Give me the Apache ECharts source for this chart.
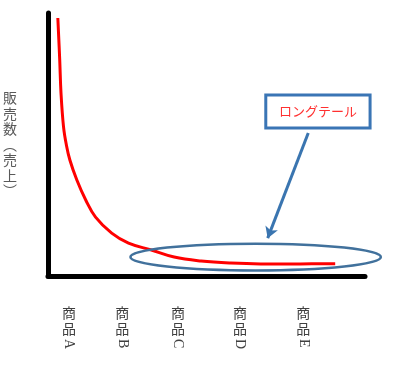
<!DOCTYPE html>
<html><head><meta charset="utf-8">
<script src="https://cdn.jsdelivr.net/npm/echarts@6/dist/echarts.min.js"></script>
<style>html,body{margin:0;padding:0;background:#fff}#c{width:400px;height:365px}</style>
</head><body><div id="c"></div>
<script>
// ---- data ----
const categories = ['商品A', '商品B', '商品C', '商品D', '商品E'];
const categoryX = [6.6, 23.4, 41.0, 60.6, 80.5];
const salesX = [3.1, 3.7, 4.1, 4.9, 5.8, 6.9, 9.1, 11.9, 15.0, 20.1, 25.4, 32.6, 39.8, 48.3, 57.7, 67.1, 79.6, 90.6];
const salesY = [98.1, 82.1, 69.6, 56.7, 49.8, 44.1, 36.5, 28.9, 22.4, 16.3, 12.5, 9.9, 7.2, 5.7, 4.9, 4.6, 4.6, 4.7];
const yAxisTitle = '販売数（売上）';
const calloutText = 'ロングテール';

// ---- annotation geometry (data coordinates) ----
const ellipseC = [65.5, 7.2], ellipseR = [39.5, 5.1];
const arrowFrom = [82.1, 54.4], arrowTo = [69.3, 14.4];
const boxTL = [68.7, 68.8], boxBR = [101.6, 56.3];

const vertical = s => s.replace('（', '︵').replace('）', '︶').split('').join('\n');
const fontFam = "'Liberation Serif', 'Noto Sans CJK JP', serif";

const chart = echarts.init(document.getElementById('c'), null, {renderer: 'canvas'});
const lineData = salesX.map((x, i) => [x, salesY[i]]);
const findCat = v => categoryX.findIndex(c => Math.abs(c - v) < 1e-6);

chart.setOption({
  animation: false,
  backgroundColor: '#fff',
  grid: {left: 46, right: 35, top: 13, bottom: 89},
  xAxis: [{
    type: 'value', min: 0, max: 100, position: 'bottom',
    axisLine: {show: true, onZero: false, lineStyle: {color: '#000', width: 5}},
    axisTick: {show: false}, splitLine: {show: false},
    axisLabel: {
      customValues: categoryX, margin: 29, color: '#404040', fontSize: 14, lineHeight: 16,
      fontFamily: "'Noto Sans CJK JP', sans-serif", verticalAlign: 'top',
      formatter: v => { const i = findCat(v); return i < 0 ? '' : vertical(categories[i].slice(0, 2)); }
    }
  }, {
    type: 'value', min: 0, max: 100, position: 'bottom',
    axisLine: {show: false}, axisTick: {show: false}, splitLine: {show: false},
    axisLabel: {
      customValues: categoryX, margin: 63, rotate: -90, color: '#404040', fontSize: 14,
      fontFamily: fontFam,
      formatter: v => { const i = findCat(v); return i < 0 ? '' : categories[i].slice(2); }
    }
  }],
  yAxis: {
    type: 'value', min: 0, max: 100,
    axisLine: {show: true, onZero: false, lineStyle: {color: '#000', width: 5}},
    axisTick: {show: false}, splitLine: {show: false}, axisLabel: {show: false},
    name: vertical(yAxisTitle), nameLocation: 'middle', nameRotate: 0, nameGap: 31,
    nameTextStyle: {color: '#595959', fontSize: 14, lineHeight: 15.5,
      fontFamily: "'Noto Sans CJK JP', sans-serif", padding: [0, 0, 28, 0]}
  },
  series: [{
    type: 'line', data: lineData, smooth: 0.4, showSymbol: false,
    lineStyle: {color: '#ff0000', width: 3}, z: 3,
    markLine: {
      silent: true, symbol: ['none', 'arrow'], symbolSize: [10, 11],
      label: {show: false},
      lineStyle: {color: '#3A75B0', width: 3, type: 'solid'},
      data: [[{coord: arrowFrom}, {coord: arrowTo}]]
    }
  }]
});

function drawAnnotations() {
  const c = chart.convertToPixel({gridIndex: 0}, ellipseC);
  const e1 = chart.convertToPixel({gridIndex: 0}, [ellipseC[0] + ellipseR[0], ellipseC[1] + ellipseR[1]]);
  const tl = chart.convertToPixel({gridIndex: 0}, boxTL);
  const br = chart.convertToPixel({gridIndex: 0}, boxBR);
  chart.setOption({graphic: [
    {type: 'ellipse', z: 10, silent: true,
     shape: {cx: c[0], cy: c[1], rx: e1[0] - c[0], ry: c[1] - e1[1]},
     style: {fill: 'none', stroke: '#41719C', lineWidth: 2.5}},
    {type: 'rect', z: 10, silent: true,
     shape: {x: tl[0], y: tl[1], width: br[0] - tl[0], height: br[1] - tl[1]},
     style: {fill: '#fff', stroke: '#3A75B5', lineWidth: 3}},
    {type: 'text', z: 11, silent: true,
     x: (tl[0] + br[0]) / 2, y: (tl[1] + br[1]) / 2,
     style: {text: calloutText, fill: '#ff3030', fontSize: 13,
       fontFamily: "'Noto Sans CJK JP', sans-serif", align: 'center', verticalAlign: 'middle'}}
  ]});
}
drawAnnotations();
</script>
</body></html>
